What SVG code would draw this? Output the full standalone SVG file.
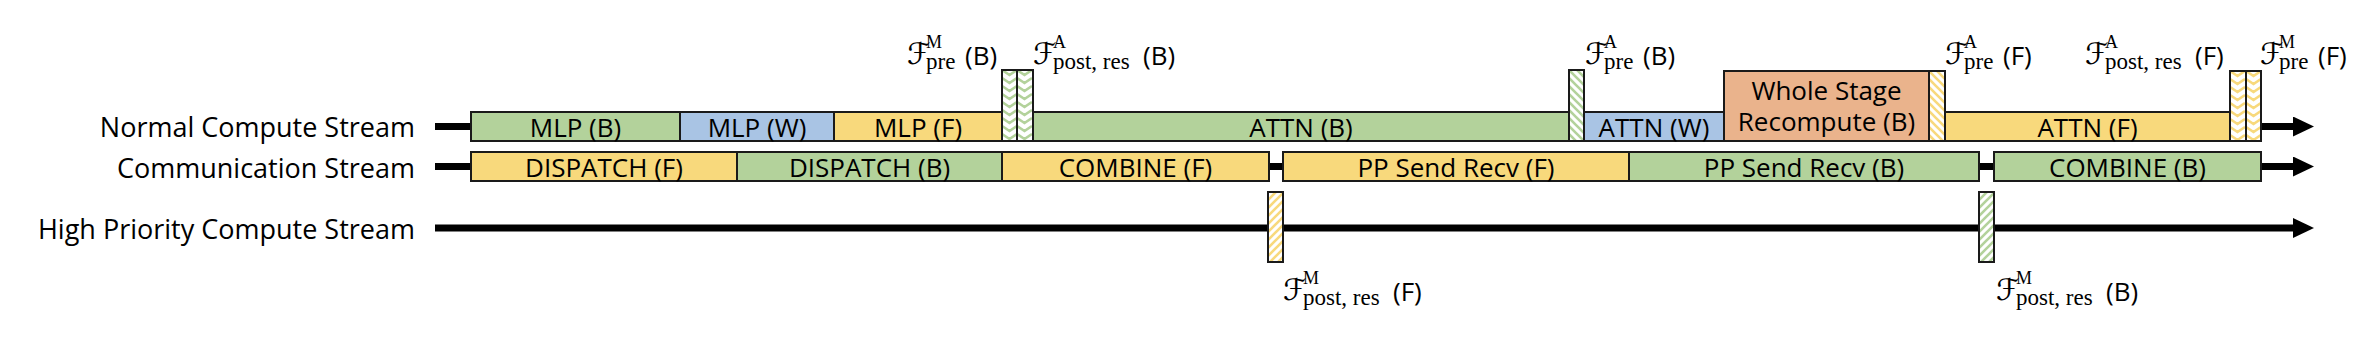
<svg xmlns="http://www.w3.org/2000/svg" width="2378" height="350" viewBox="0 0 2378 350">
<style>
.lbl{font-family:"Open Sans","Noto Sans","DejaVu Sans",sans-serif;font-size:27px;fill:#000;text-anchor:end}
.bt{font-family:"Open Sans","Noto Sans","DejaVu Sans",sans-serif;font-size:26px;fill:#000;text-anchor:middle}
.mt{font-family:"Open Sans","Noto Sans","DejaVu Sans",sans-serif;font-size:26px;fill:#000}
.sf{font-family:"DejaVu Serif","DejaVu Sans",serif;font-size:30px;fill:#000}
.sup{font-family:"Liberation Serif","DejaVu Serif",serif;font-size:18px;fill:#000}
.sub{font-family:"Liberation Serif","DejaVu Serif",serif;font-size:23px;fill:#000}
.box{stroke:#1a1a1a;stroke-width:2}
.g{fill:#b3d29b}.y{fill:#f8d97c}.b{fill:#a9c4e4}.o{fill:#eab38c}
.ln{stroke:#000;stroke-width:7;fill:none}
</style>
<defs>
<marker id="ah" markerUnits="userSpaceOnUse" markerWidth="22" markerHeight="22" refX="0" refY="10" orient="auto"><path d="M0,0 L21,10 L0,20 z" fill="#000"/></marker>
<pattern id="sG" width="8" height="8" patternUnits="userSpaceOnUse"><rect width="8" height="8" fill="#fff"/><path d="M0,0 L8,8 M-4,4 L4,12 M4,-4 L12,4" stroke="#b3d29b" stroke-width="2.6"/></pattern>
<pattern id="sY" width="8" height="8" patternUnits="userSpaceOnUse"><rect width="8" height="8" fill="#fff"/><path d="M0,0 L8,8 M-4,4 L4,12 M4,-4 L12,4" stroke="#f8d97c" stroke-width="2.6"/></pattern>
<pattern id="rG" width="8" height="8" patternUnits="userSpaceOnUse"><rect width="8" height="8" fill="#fff"/><path d="M0,8 L8,0 M-4,4 L4,-4 M4,12 L12,4" stroke="#b3d29b" stroke-width="2.6"/></pattern>
<pattern id="rY" width="8" height="8" patternUnits="userSpaceOnUse"><rect width="8" height="8" fill="#fff"/><path d="M0,8 L8,0 M-4,4 L4,-4 M4,12 L12,4" stroke="#f8d97c" stroke-width="2.6"/></pattern>
<pattern id="zG" width="15" height="8" patternUnits="userSpaceOnUse"><rect width="15" height="8" fill="#fff"/><path d="M0,-8 L7.5,-3 L15,-8 M0,0 L7.5,5 L15,0 M0,8 L7.5,13 L15,8" stroke="#b3d29b" stroke-width="2.6" fill="none"/></pattern>
<pattern id="zY" width="15" height="8" patternUnits="userSpaceOnUse"><rect width="15" height="8" fill="#fff"/><path d="M0,-8 L7.5,-3 L15,-8 M0,0 L7.5,5 L15,0 M0,8 L7.5,13 L15,8" stroke="#f8d97c" stroke-width="2.6" fill="none"/></pattern>
</defs>

<g id="stream-labels">
<text class="lbl" x="415" y="137">Normal Compute Stream</text>
<text class="lbl" x="415" y="178">Communication Stream</text>
<text class="lbl" x="415" y="239">High Priority Compute Stream</text>
</g>

<g id="connectors">
<line class="ln" x1="435" y1="126.5" x2="2293" y2="126.5" marker-end="url(#ah)"/>
<line class="ln" x1="435" y1="166.5" x2="2293" y2="166.5" marker-end="url(#ah)"/>
<line class="ln" x1="435" y1="228" x2="2293" y2="228" marker-end="url(#ah)"/>
</g>

<!-- Normal compute stream -->
<g id="mlp-b"><rect class="box g" x="471" y="112" width="209" height="29"/><text class="bt" x="575.5" y="137">MLP (B)</text></g>
<g id="mlp-w"><rect class="box b" x="680" y="112" width="154" height="29"/><text class="bt" x="757" y="137">MLP (W)</text></g>
<g id="mlp-f"><rect class="box y" x="834" y="112" width="168" height="29"/><text class="bt" x="918" y="137">MLP (F)</text></g>
<g id="fm-pre-b-box" transform="translate(1002,70)"><rect class="box" width="15" height="71" fill="url(#zG)"/></g>
<g id="fa-post-b-box" transform="translate(1017,70)"><rect class="box" width="16" height="71" fill="url(#zG)"/></g>
<g id="attn-b"><rect class="box g" x="1033" y="112" width="536" height="29"/><text class="bt" x="1301" y="137">ATTN (B)</text></g>
<g id="fa-pre-b-box" transform="translate(1569,70)"><rect class="box" width="15" height="71" fill="url(#sG)"/></g>
<g id="attn-w"><rect class="box b" x="1584" y="112" width="140" height="29"/><text class="bt" x="1654" y="137">ATTN (W)</text></g>
<g id="recompute"><rect class="box o" x="1724" y="71" width="205" height="70"/><text class="bt" x="1826.5" y="100">Whole Stage</text><text class="bt" x="1826.5" y="131">Recompute (B)</text></g>
<g id="fa-pre-f-box" transform="translate(1929,71)"><rect class="box" width="16" height="70" fill="url(#sY)"/></g>
<g id="attn-f"><rect class="box y" x="1945" y="112" width="285" height="29"/><text class="bt" x="2087.5" y="137">ATTN (F)</text></g>
<g id="fa-post-f-box" transform="translate(2230,71)"><rect class="box" width="16" height="70" fill="url(#zY)"/></g>
<g id="fm-pre-f-box" transform="translate(2246,71)"><rect class="box" width="15" height="70" fill="url(#zY)"/></g>

<!-- Communication stream -->
<g id="dispatch-f"><rect class="box y" x="471" y="152" width="266" height="29"/><text class="bt" x="604" y="177">DISPATCH (F)</text></g>
<g id="dispatch-b"><rect class="box g" x="737" y="152" width="265" height="29"/><text class="bt" x="869.5" y="177">DISPATCH (B)</text></g>
<g id="combine-f"><rect class="box y" x="1002" y="152" width="267" height="29"/><text class="bt" x="1135.5" y="177">COMBINE (F)</text></g>
<g id="pp-f"><rect class="box y" x="1283" y="152" width="346" height="29"/><text class="bt" x="1456" y="177">PP Send Recv (F)</text></g>
<g id="pp-b"><rect class="box g" x="1629" y="152" width="350" height="29"/><text class="bt" x="1804" y="177">PP Send Recv (B)</text></g>
<g id="combine-b"><rect class="box g" x="1994" y="152" width="267" height="29"/><text class="bt" x="2127.5" y="177">COMBINE (B)</text></g>

<!-- High priority stream -->
<g id="fm-post-f-box" transform="translate(1268,192)"><rect class="box" width="15" height="70" fill="url(#rY)"/></g>
<g id="fm-post-b-box" transform="translate(1979,192)"><rect class="box" width="15" height="70" fill="url(#rG)"/></g>

<!-- Math labels -->
<g id="lbl-fm-pre-b" transform="translate(907,65)"><text class="sf" x="0" y="-1">ℱ</text><text class="sup" x="19" y="-17">M</text><text class="sub" x="19" y="4">pre</text><text class="mt" x="58" y="0">(B)</text></g>
<g id="lbl-fa-post-b" transform="translate(1033,65)"><text class="sf" x="0" y="-1">ℱ</text><text class="sup" x="20" y="-17">A</text><text class="sub" x="20" y="4">post, res</text><text class="mt" x="110" y="0">(B)</text></g>
<g id="lbl-fa-pre-b" transform="translate(1585,65)"><text class="sf" x="0" y="-1">ℱ</text><text class="sup" x="19" y="-17">A</text><text class="sub" x="19" y="4">pre</text><text class="mt" x="58" y="0">(B)</text></g>
<g id="lbl-fa-pre-f" transform="translate(1945,65)"><text class="sf" x="0" y="-1">ℱ</text><text class="sup" x="19" y="-17">A</text><text class="sub" x="19" y="4">pre</text><text class="mt" x="58" y="0">(F)</text></g>
<g id="lbl-fa-post-f" transform="translate(2085,65)"><text class="sf" x="0" y="-1">ℱ</text><text class="sup" x="20" y="-17">A</text><text class="sub" x="20" y="4">post, res</text><text class="mt" x="110" y="0">(F)</text></g>
<g id="lbl-fm-pre-f" transform="translate(2260,65)"><text class="sf" x="0" y="-1">ℱ</text><text class="sup" x="19" y="-17">M</text><text class="sub" x="19" y="4">pre</text><text class="mt" x="58" y="0">(F)</text></g>
<g id="lbl-fm-post-f" transform="translate(1283,301)"><text class="sf" x="0" y="-1">ℱ</text><text class="sup" x="20" y="-17">M</text><text class="sub" x="20" y="4">post, res</text><text class="mt" x="110" y="0">(F)</text></g>
<g id="lbl-fm-post-b" transform="translate(1996,301)"><text class="sf" x="0" y="-1">ℱ</text><text class="sup" x="20" y="-17">M</text><text class="sub" x="20" y="4">post, res</text><text class="mt" x="110" y="0">(B)</text></g>
</svg>
